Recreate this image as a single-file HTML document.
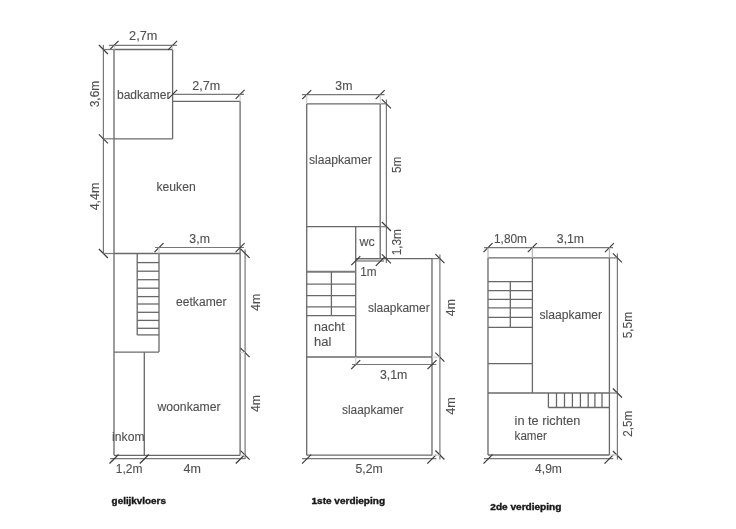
<!DOCTYPE html>
<html><head><meta charset="utf-8"><style>
html,body{margin:0;padding:0;background:#fff;}
svg{display:block;}
text{font-family:"Liberation Sans",sans-serif;}
</style></head><body>
<svg width="736" height="529" viewBox="0 0 736 529">
<defs><filter id="b" x="0" y="0" width="736" height="529" filterUnits="userSpaceOnUse"><feGaussianBlur stdDeviation="0.6"/></filter></defs>
<rect width="736" height="529" fill="#fff"/>
<g filter="url(#b)">
<line x1="114" y1="49.5" x2="114" y2="455.3" stroke="#686868" stroke-width="1.3"/>
<line x1="114" y1="49.5" x2="172.6" y2="49.5" stroke="#686868" stroke-width="1.3"/>
<line x1="172.6" y1="49.5" x2="172.6" y2="138.8" stroke="#686868" stroke-width="1.3"/>
<line x1="114" y1="138.8" x2="172.6" y2="138.8" stroke="#686868" stroke-width="1.3"/>
<line x1="172.6" y1="101.3" x2="240.1" y2="101.3" stroke="#686868" stroke-width="1.3"/>
<line x1="240.1" y1="101.3" x2="240.1" y2="455.3" stroke="#686868" stroke-width="1.3"/>
<line x1="114" y1="253.5" x2="240.1" y2="253.5" stroke="#686868" stroke-width="1.3"/>
<line x1="137.2" y1="253.5" x2="137.2" y2="334.9" stroke="#686868" stroke-width="1.3"/>
<line x1="159" y1="253.5" x2="159" y2="352.1" stroke="#686868" stroke-width="1.3"/>
<line x1="137.2" y1="262.6" x2="159" y2="262.6" stroke="#686868" stroke-width="1.3"/>
<line x1="137.2" y1="271.2" x2="159" y2="271.2" stroke="#686868" stroke-width="1.3"/>
<line x1="137.2" y1="279.7" x2="159" y2="279.7" stroke="#686868" stroke-width="1.3"/>
<line x1="137.2" y1="288.2" x2="159" y2="288.2" stroke="#686868" stroke-width="1.3"/>
<line x1="137.2" y1="296.6" x2="159" y2="296.6" stroke="#686868" stroke-width="1.3"/>
<line x1="137.2" y1="304.0" x2="159" y2="304.0" stroke="#686868" stroke-width="1.3"/>
<line x1="137.2" y1="312.3" x2="159" y2="312.3" stroke="#686868" stroke-width="1.3"/>
<line x1="137.2" y1="320.4" x2="159" y2="320.4" stroke="#686868" stroke-width="1.3"/>
<line x1="137.2" y1="328.3" x2="159" y2="328.3" stroke="#686868" stroke-width="1.3"/>
<line x1="137.2" y1="334.9" x2="159" y2="334.9" stroke="#686868" stroke-width="1.3"/>
<line x1="114" y1="352.1" x2="159" y2="352.1" stroke="#686868" stroke-width="1.3"/>
<line x1="144.3" y1="352.1" x2="144.3" y2="455.3" stroke="#686868" stroke-width="1.3"/>
<line x1="114" y1="455.3" x2="240.1" y2="455.3" stroke="#686868" stroke-width="1.3"/>
<line x1="109" y1="45.4" x2="177" y2="45.4" stroke="#787878" stroke-width="1.2"/>
<line x1="109.5" y1="49.9" x2="118.5" y2="40.9" stroke="#3a3a3a" stroke-width="1.2"/>
<line x1="168.1" y1="49.9" x2="177.1" y2="40.9" stroke="#3a3a3a" stroke-width="1.2"/>
<line x1="103.4" y1="45" x2="103.4" y2="253.5" stroke="#787878" stroke-width="1.2"/>
<line x1="98.9" y1="45.0" x2="107.9" y2="54.0" stroke="#3a3a3a" stroke-width="1.2"/>
<line x1="98.9" y1="134.3" x2="107.9" y2="143.3" stroke="#3a3a3a" stroke-width="1.2"/>
<line x1="98.9" y1="249.0" x2="107.9" y2="258.0" stroke="#3a3a3a" stroke-width="1.2"/>
<line x1="103.4" y1="49.5" x2="114" y2="49.5" stroke="#787878" stroke-width="1.2"/>
<line x1="103.4" y1="138.8" x2="114" y2="138.8" stroke="#787878" stroke-width="1.2"/>
<line x1="103.4" y1="253.5" x2="114" y2="253.5" stroke="#787878" stroke-width="1.2"/>
<line x1="172.6" y1="94.4" x2="244" y2="94.4" stroke="#787878" stroke-width="1.2"/>
<line x1="168.1" y1="98.9" x2="177.1" y2="89.9" stroke="#3a3a3a" stroke-width="1.2"/>
<line x1="235.6" y1="98.9" x2="244.6" y2="89.9" stroke="#3a3a3a" stroke-width="1.2"/>
<line x1="155" y1="247.5" x2="244" y2="247.5" stroke="#787878" stroke-width="1.2"/>
<line x1="154.5" y1="252.1" x2="163.5" y2="243.1" stroke="#3a3a3a" stroke-width="1.2"/>
<line x1="235.6" y1="252.1" x2="244.6" y2="243.1" stroke="#3a3a3a" stroke-width="1.2"/>
<line x1="245.1" y1="249.5" x2="245.1" y2="459" stroke="#787878" stroke-width="1.2"/>
<line x1="240.6" y1="248.9" x2="249.6" y2="257.9" stroke="#3a3a3a" stroke-width="1.2"/>
<line x1="240.6" y1="348.1" x2="249.6" y2="357.1" stroke="#3a3a3a" stroke-width="1.2"/>
<line x1="240.6" y1="450.7" x2="249.6" y2="459.7" stroke="#3a3a3a" stroke-width="1.2"/>
<line x1="110" y1="458.7" x2="245.1" y2="458.7" stroke="#787878" stroke-width="1.2"/>
<line x1="109.5" y1="463.5" x2="118.5" y2="454.5" stroke="#3a3a3a" stroke-width="1.2"/>
<line x1="139.8" y1="463.5" x2="148.8" y2="454.5" stroke="#3a3a3a" stroke-width="1.2"/>
<line x1="235.8" y1="463.5" x2="244.8" y2="454.5" stroke="#3a3a3a" stroke-width="1.2"/>
<line x1="306.7" y1="103.8" x2="306.7" y2="455.2" stroke="#686868" stroke-width="1.3"/>
<line x1="306.7" y1="103.8" x2="380.2" y2="103.8" stroke="#686868" stroke-width="1.3"/>
<line x1="380.2" y1="103.8" x2="380.2" y2="258.6" stroke="#686868" stroke-width="1.3"/>
<line x1="306.7" y1="226.7" x2="380.2" y2="226.7" stroke="#686868" stroke-width="1.3"/>
<line x1="355.7" y1="226.7" x2="355.7" y2="357" stroke="#686868" stroke-width="1.3"/>
<line x1="355.7" y1="258.6" x2="432" y2="258.6" stroke="#686868" stroke-width="1.3"/>
<line x1="432" y1="258.6" x2="432" y2="455.2" stroke="#686868" stroke-width="1.3"/>
<line x1="306.7" y1="357" x2="432" y2="357" stroke="#686868" stroke-width="1.3"/>
<line x1="306.7" y1="455.2" x2="432" y2="455.2" stroke="#686868" stroke-width="1.3"/>
<line x1="306.7" y1="271.8" x2="355.7" y2="271.8" stroke="#7a7a7a" stroke-width="1.9"/>
<line x1="306.7" y1="284.2" x2="355.7" y2="284.2" stroke="#686868" stroke-width="1.3"/>
<line x1="306.7" y1="295.7" x2="355.7" y2="295.7" stroke="#686868" stroke-width="1.3"/>
<line x1="306.7" y1="306.9" x2="355.7" y2="306.9" stroke="#686868" stroke-width="1.3"/>
<line x1="306.7" y1="315.6" x2="355.7" y2="315.6" stroke="#686868" stroke-width="1.3"/>
<line x1="331.4" y1="271.8" x2="331.4" y2="315.6" stroke="#686868" stroke-width="1.3"/>
<line x1="302" y1="94.7" x2="384.5" y2="94.7" stroke="#787878" stroke-width="1.2"/>
<line x1="302.2" y1="99.2" x2="311.2" y2="90.2" stroke="#3a3a3a" stroke-width="1.2"/>
<line x1="375.7" y1="99.2" x2="384.7" y2="90.2" stroke="#3a3a3a" stroke-width="1.2"/>
<line x1="386.4" y1="99.5" x2="386.4" y2="263" stroke="#787878" stroke-width="1.2"/>
<line x1="381.9" y1="99.3" x2="390.9" y2="108.3" stroke="#3a3a3a" stroke-width="1.2"/>
<line x1="381.9" y1="222.0" x2="390.9" y2="231.0" stroke="#3a3a3a" stroke-width="1.2"/>
<line x1="381.9" y1="254.3" x2="390.9" y2="263.3" stroke="#3a3a3a" stroke-width="1.2"/>
<line x1="380.2" y1="103.8" x2="386.4" y2="103.8" stroke="#787878" stroke-width="1.2"/>
<line x1="380.2" y1="226.7" x2="386.4" y2="226.7" stroke="#787878" stroke-width="1.2"/>
<line x1="356" y1="260.7" x2="384" y2="260.7" stroke="#a4a4a4" stroke-width="2.4"/>
<line x1="351.3" y1="265.1" x2="360.3" y2="256.1" stroke="#3a3a3a" stroke-width="1.2"/>
<line x1="375.8" y1="265.8" x2="384.8" y2="256.8" stroke="#3a3a3a" stroke-width="1.2"/>
<line x1="439.9" y1="254.4" x2="439.9" y2="459.5" stroke="#787878" stroke-width="1.2"/>
<line x1="435.4" y1="254.10000000000002" x2="444.4" y2="263.1" stroke="#3a3a3a" stroke-width="1.2"/>
<line x1="435.4" y1="352.7" x2="444.4" y2="361.7" stroke="#3a3a3a" stroke-width="1.2"/>
<line x1="435.4" y1="450.5" x2="444.4" y2="459.5" stroke="#3a3a3a" stroke-width="1.2"/>
<line x1="432" y1="258.6" x2="439.8" y2="258.6" stroke="#787878" stroke-width="1.2"/>
<line x1="352" y1="364.5" x2="436.3" y2="364.5" stroke="#787878" stroke-width="1.2"/>
<line x1="351.2" y1="369.1" x2="360.2" y2="360.1" stroke="#3a3a3a" stroke-width="1.2"/>
<line x1="427.5" y1="369.1" x2="436.5" y2="360.1" stroke="#3a3a3a" stroke-width="1.2"/>
<line x1="302" y1="458.7" x2="436.4" y2="458.7" stroke="#787878" stroke-width="1.2"/>
<line x1="302.1" y1="463.6" x2="311.1" y2="454.6" stroke="#3a3a3a" stroke-width="1.2"/>
<line x1="427.3" y1="463.6" x2="436.3" y2="454.6" stroke="#3a3a3a" stroke-width="1.2"/>
<line x1="488" y1="257.9" x2="488" y2="455" stroke="#686868" stroke-width="1.3"/>
<line x1="488" y1="257.9" x2="609.4" y2="257.9" stroke="#686868" stroke-width="1.3"/>
<line x1="609.4" y1="257.9" x2="609.4" y2="455" stroke="#686868" stroke-width="1.3"/>
<line x1="532.4" y1="257.9" x2="532.4" y2="393" stroke="#686868" stroke-width="1.3"/>
<line x1="488" y1="281.7" x2="532.4" y2="281.7" stroke="#686868" stroke-width="1.3"/>
<line x1="488" y1="290.6" x2="532.4" y2="290.6" stroke="#686868" stroke-width="1.3"/>
<line x1="488" y1="299.3" x2="532.4" y2="299.3" stroke="#686868" stroke-width="1.3"/>
<line x1="488" y1="307.8" x2="532.4" y2="307.8" stroke="#686868" stroke-width="1.3"/>
<line x1="488" y1="317.4" x2="532.4" y2="317.4" stroke="#686868" stroke-width="1.3"/>
<line x1="488" y1="327.3" x2="532.4" y2="327.3" stroke="#686868" stroke-width="1.3"/>
<line x1="510.3" y1="281.7" x2="510.3" y2="327.3" stroke="#686868" stroke-width="1.3"/>
<line x1="488" y1="363.6" x2="532.4" y2="363.6" stroke="#686868" stroke-width="1.3"/>
<line x1="488" y1="393" x2="609.4" y2="393" stroke="#686868" stroke-width="1.3"/>
<line x1="548.4" y1="407.5" x2="609.4" y2="407.5" stroke="#686868" stroke-width="1.3"/>
<line x1="548.4" y1="393" x2="548.4" y2="407.5" stroke="#686868" stroke-width="1.3"/>
<line x1="556.5" y1="393" x2="556.5" y2="407.5" stroke="#686868" stroke-width="1.3"/>
<line x1="564.5" y1="393" x2="564.5" y2="407.5" stroke="#686868" stroke-width="1.3"/>
<line x1="572.4" y1="393" x2="572.4" y2="407.5" stroke="#686868" stroke-width="1.3"/>
<line x1="580.4" y1="393" x2="580.4" y2="407.5" stroke="#686868" stroke-width="1.3"/>
<line x1="588.2" y1="393" x2="588.2" y2="407.5" stroke="#686868" stroke-width="1.3"/>
<line x1="594.9" y1="393" x2="594.9" y2="407.5" stroke="#686868" stroke-width="1.3"/>
<line x1="602" y1="393" x2="602" y2="407.5" stroke="#686868" stroke-width="1.3"/>
<line x1="488" y1="455" x2="609.4" y2="455" stroke="#686868" stroke-width="1.3"/>
<line x1="484" y1="247.6" x2="613" y2="247.6" stroke="#787878" stroke-width="1.2"/>
<line x1="483.5" y1="252.1" x2="492.5" y2="243.1" stroke="#3a3a3a" stroke-width="1.2"/>
<line x1="527.8" y1="252.1" x2="536.8" y2="243.1" stroke="#3a3a3a" stroke-width="1.2"/>
<line x1="604.9" y1="252.1" x2="613.9" y2="243.1" stroke="#3a3a3a" stroke-width="1.2"/>
<line x1="488" y1="247.6" x2="488" y2="257.9" stroke="#b5b5b5" stroke-width="1.2"/>
<line x1="532.3" y1="247.6" x2="532.3" y2="257.9" stroke="#b5b5b5" stroke-width="1.2"/>
<line x1="609.4" y1="247.6" x2="609.4" y2="257.9" stroke="#b5b5b5" stroke-width="1.2"/>
<line x1="617.4" y1="253.5" x2="617.4" y2="459.5" stroke="#787878" stroke-width="1.2"/>
<line x1="612.9" y1="253.39999999999998" x2="621.9" y2="262.4" stroke="#3a3a3a" stroke-width="1.2"/>
<line x1="612.9" y1="388.5" x2="621.9" y2="397.5" stroke="#3a3a3a" stroke-width="1.2"/>
<line x1="612.9" y1="451.0" x2="621.9" y2="460.0" stroke="#3a3a3a" stroke-width="1.2"/>
<line x1="609.4" y1="257.9" x2="617.5" y2="257.9" stroke="#787878" stroke-width="1.2"/>
<line x1="609.4" y1="393" x2="617.5" y2="393" stroke="#787878" stroke-width="1.2"/>
<line x1="484" y1="458.7" x2="613.3" y2="458.7" stroke="#787878" stroke-width="1.2"/>
<line x1="483.5" y1="463.6" x2="492.5" y2="454.6" stroke="#3a3a3a" stroke-width="1.2"/>
<line x1="604.5" y1="463.6" x2="613.5" y2="454.6" stroke="#3a3a3a" stroke-width="1.2"/>
<line x1="114.3" y1="45.4" x2="114.3" y2="49.5" stroke="#cfcfcf" stroke-width="1.2"/>
<line x1="172.6" y1="45.4" x2="172.6" y2="49.5" stroke="#cfcfcf" stroke-width="1.2"/>
<line x1="240.1" y1="94.4" x2="240.1" y2="101.3" stroke="#cfcfcf" stroke-width="1.2"/>
<line x1="159" y1="247.5" x2="159" y2="253.5" stroke="#cfcfcf" stroke-width="1.2"/>
<line x1="306.7" y1="94.7" x2="306.7" y2="103.8" stroke="#cfcfcf" stroke-width="1.2"/>
<line x1="380.2" y1="94.7" x2="380.2" y2="103.8" stroke="#cfcfcf" stroke-width="1.2"/>
<line x1="355.7" y1="357" x2="355.7" y2="364.5" stroke="#cfcfcf" stroke-width="1.2"/>
<line x1="432" y1="357.1" x2="439.9" y2="357.1" stroke="#cfcfcf" stroke-width="1.2"/>
<line x1="432" y1="455.2" x2="439.9" y2="455.2" stroke="#cfcfcf" stroke-width="1.2"/>
<line x1="609.4" y1="455.1" x2="617.4" y2="455.1" stroke="#cfcfcf" stroke-width="1.2"/>
<line x1="240.1" y1="352.5" x2="245.1" y2="352.5" stroke="#cfcfcf" stroke-width="1.2"/>
<line x1="240.1" y1="455.3" x2="245.1" y2="455.3" stroke="#cfcfcf" stroke-width="1.2"/>
<text x="129.07" y="39.80" font-size="12.0" fill="#505050" stroke="#505050" stroke-width="0.12" textLength="28.26" lengthAdjust="spacingAndGlyphs">2,7m</text>
<text x="192.22" y="89.50" font-size="12.0" fill="#505050" stroke="#505050" stroke-width="0.12" textLength="27.86" lengthAdjust="spacingAndGlyphs">2,7m</text>
<text x="116.96" y="99.20" font-size="12.0" fill="#505050" stroke="#505050" stroke-width="0.12" textLength="53.66" lengthAdjust="spacingAndGlyphs">badkamer</text>
<text transform="translate(98.60,107.33) rotate(-90)" x="0" y="0" font-size="12.0" fill="#505050" stroke="#505050" stroke-width="0.12" textLength="26.57" lengthAdjust="spacingAndGlyphs">3,6m</text>
<text transform="translate(98.60,210.33) rotate(-90)" x="0" y="0" font-size="12.0" fill="#505050" stroke="#505050" stroke-width="0.12" textLength="27.79" lengthAdjust="spacingAndGlyphs">4,4m</text>
<text x="156.51" y="191.20" font-size="12.0" fill="#505050" stroke="#505050" stroke-width="0.12" textLength="39.19" lengthAdjust="spacingAndGlyphs">keuken</text>
<text x="189.35" y="242.60" font-size="12.0" fill="#505050" stroke="#505050" stroke-width="0.12" textLength="20.61" lengthAdjust="spacingAndGlyphs">3,m</text>
<text x="176.09" y="306.00" font-size="12.0" fill="#505050" stroke="#505050" stroke-width="0.12" textLength="50.36" lengthAdjust="spacingAndGlyphs">eetkamer</text>
<text transform="translate(259.80,310.96) rotate(-90)" x="0" y="0" font-size="12.0" fill="#505050" stroke="#505050" stroke-width="0.12" textLength="17.20" lengthAdjust="spacingAndGlyphs">4m</text>
<text x="157.41" y="410.80" font-size="12.0" fill="#505050" stroke="#505050" stroke-width="0.12" textLength="63.23" lengthAdjust="spacingAndGlyphs">woonkamer</text>
<text transform="translate(259.80,411.96) rotate(-90)" x="0" y="0" font-size="12.0" fill="#505050" stroke="#505050" stroke-width="0.12" textLength="16.90" lengthAdjust="spacingAndGlyphs">4m</text>
<text x="112.12" y="440.60" font-size="12.0" fill="#505050" stroke="#505050" stroke-width="0.12" textLength="32.41" lengthAdjust="spacingAndGlyphs">inkom</text>
<text x="115.74" y="473.00" font-size="12.0" fill="#505050" stroke="#505050" stroke-width="0.12" textLength="26.65" lengthAdjust="spacingAndGlyphs">1,2m</text>
<text x="183.64" y="473.10" font-size="12.0" fill="#505050" stroke="#505050" stroke-width="0.12" textLength="17.35" lengthAdjust="spacingAndGlyphs">4m</text>
<text x="111.63" y="504.20" font-size="9.0" fill="#151515" font-weight="bold" stroke="#151515" stroke-width="0.35" textLength="54.30" lengthAdjust="spacingAndGlyphs">gelijkvloers</text>
<text x="335.29" y="89.50" font-size="12.0" fill="#505050" stroke="#505050" stroke-width="0.12" textLength="17.10" lengthAdjust="spacingAndGlyphs">3m</text>
<text x="308.90" y="163.50" font-size="12.0" fill="#505050" stroke="#505050" stroke-width="0.12" textLength="62.84" lengthAdjust="spacingAndGlyphs">slaapkamer</text>
<text transform="translate(401.30,173.08) rotate(-90)" x="0" y="0" font-size="12.0" fill="#505050" stroke="#505050" stroke-width="0.12" textLength="16.39" lengthAdjust="spacingAndGlyphs">5m</text>
<text x="359.43" y="246.40" font-size="12.0" fill="#505050" stroke="#505050" stroke-width="0.12" textLength="15.22" lengthAdjust="spacingAndGlyphs">wc</text>
<text transform="translate(401.40,255.37) rotate(-90)" x="0" y="0" font-size="12.0" fill="#505050" stroke="#505050" stroke-width="0.12" textLength="26.33" lengthAdjust="spacingAndGlyphs">1,3m</text>
<text x="360.28" y="275.50" font-size="12.0" fill="#505050" stroke="#505050" stroke-width="0.12" textLength="16.37" lengthAdjust="spacingAndGlyphs">1m</text>
<text x="313.96" y="330.80" font-size="12.0" fill="#505050" stroke="#505050" stroke-width="0.12" textLength="30.69" lengthAdjust="spacingAndGlyphs">nacht</text>
<text x="314.00" y="345.70" font-size="12.0" fill="#505050" stroke="#505050" stroke-width="0.12" textLength="17.30" lengthAdjust="spacingAndGlyphs">hal</text>
<text x="367.93" y="312.40" font-size="12.0" fill="#505050" stroke="#505050" stroke-width="0.12" textLength="61.74" lengthAdjust="spacingAndGlyphs">slaapkamer</text>
<text transform="translate(454.50,316.16) rotate(-90)" x="0" y="0" font-size="12.0" fill="#505050" stroke="#505050" stroke-width="0.12" textLength="16.96" lengthAdjust="spacingAndGlyphs">4m</text>
<text x="379.95" y="379.40" font-size="12.0" fill="#505050" stroke="#505050" stroke-width="0.12" textLength="27.47" lengthAdjust="spacingAndGlyphs">3,1m</text>
<text x="341.96" y="414.10" font-size="12.0" fill="#505050" stroke="#505050" stroke-width="0.12" textLength="61.56" lengthAdjust="spacingAndGlyphs">slaapkamer</text>
<text transform="translate(454.50,414.87) rotate(-90)" x="0" y="0" font-size="12.0" fill="#505050" stroke="#505050" stroke-width="0.12" textLength="17.48" lengthAdjust="spacingAndGlyphs">4m</text>
<text x="355.57" y="473.40" font-size="12.0" fill="#505050" stroke="#505050" stroke-width="0.12" textLength="27.23" lengthAdjust="spacingAndGlyphs">5,2m</text>
<text x="311.53" y="503.80" font-size="9.0" fill="#151515" font-weight="bold" stroke="#151515" stroke-width="0.35" textLength="73.50" lengthAdjust="spacingAndGlyphs">1ste verdieping</text>
<text x="494.04" y="242.80" font-size="12.0" fill="#505050" stroke="#505050" stroke-width="0.12" textLength="32.86" lengthAdjust="spacingAndGlyphs">1,80m</text>
<text x="556.85" y="242.50" font-size="12.0" fill="#505050" stroke="#505050" stroke-width="0.12" textLength="27.22" lengthAdjust="spacingAndGlyphs">3,1m</text>
<text x="539.40" y="318.70" font-size="12.0" fill="#505050" stroke="#505050" stroke-width="0.12" textLength="62.76" lengthAdjust="spacingAndGlyphs">slaapkamer</text>
<text transform="translate(632.40,338.30) rotate(-90)" x="0" y="0" font-size="12.0" fill="#505050" stroke="#505050" stroke-width="0.12" textLength="26.29" lengthAdjust="spacingAndGlyphs">5,5m</text>
<text x="514.61" y="424.90" font-size="12.0" fill="#505050" stroke="#505050" stroke-width="0.12" textLength="65.86" lengthAdjust="spacingAndGlyphs">in te richten</text>
<text x="514.59" y="439.60" font-size="12.0" fill="#505050" stroke="#505050" stroke-width="0.12" textLength="32.24" lengthAdjust="spacingAndGlyphs">kamer</text>
<text transform="translate(632.40,436.77) rotate(-90)" x="0" y="0" font-size="12.0" fill="#505050" stroke="#505050" stroke-width="0.12" textLength="25.86" lengthAdjust="spacingAndGlyphs">2,5m</text>
<text x="535.06" y="473.40" font-size="12.0" fill="#505050" stroke="#505050" stroke-width="0.12" textLength="26.88" lengthAdjust="spacingAndGlyphs">4,9m</text>
<text x="490.39" y="509.70" font-size="9.0" fill="#151515" font-weight="bold" stroke="#151515" stroke-width="0.35" textLength="70.95" lengthAdjust="spacingAndGlyphs">2de verdieping</text>
</g>
</svg>
</body></html>
